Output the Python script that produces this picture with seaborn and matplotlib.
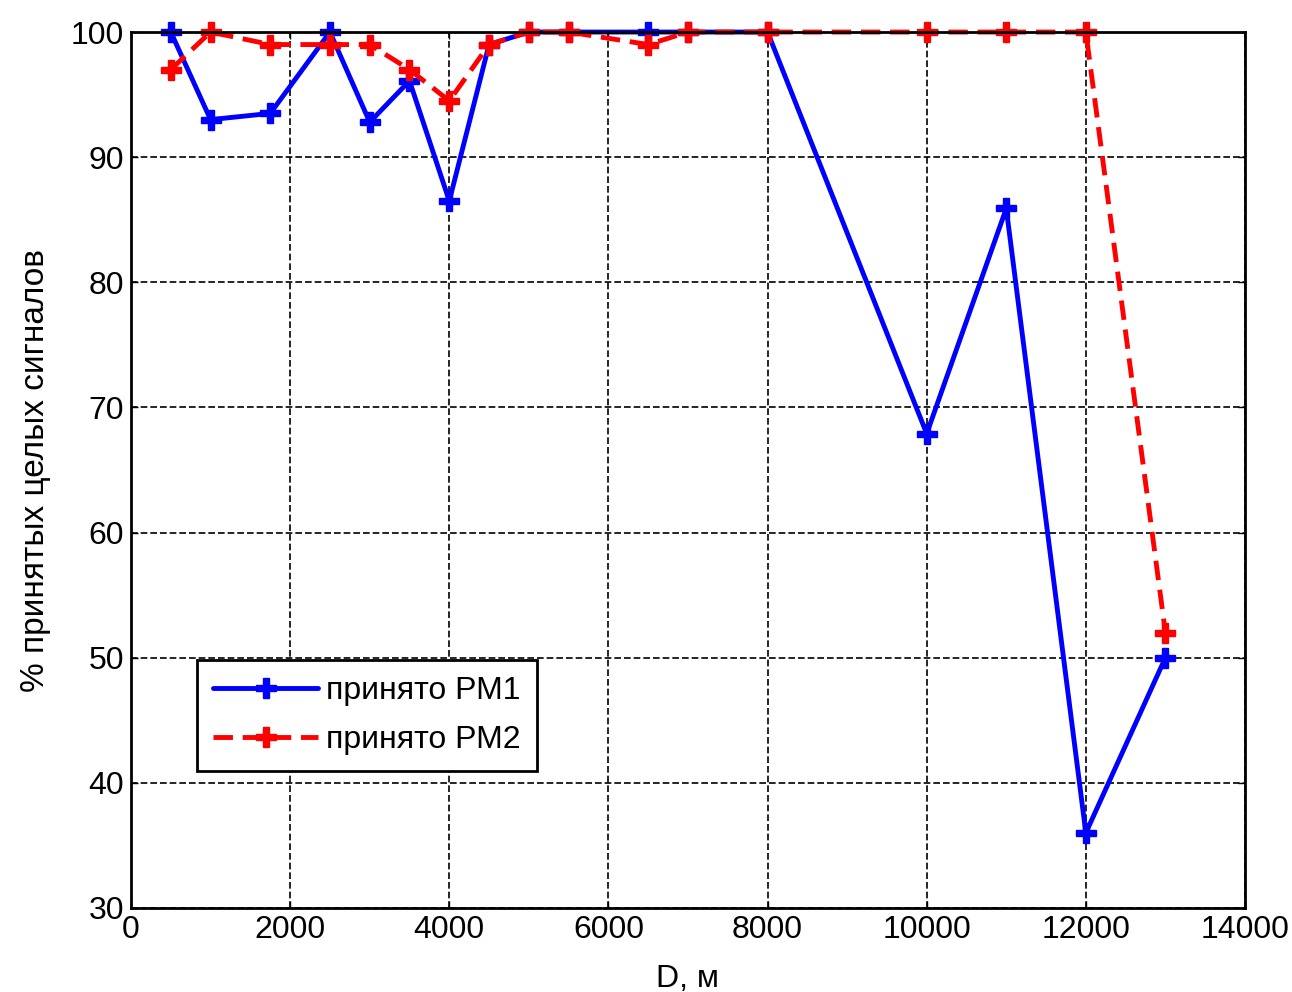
import matplotlib
matplotlib.use("Agg")
import matplotlib.pyplot as plt
import seaborn as sns
import pandas as pd

distance = [500, 1000, 1750, 2500, 3000, 3500, 4000, 4500, 5000, 5500, 6500, 7000, 8000, 10000, 11000, 12000, 13000]
pm1 = [100, 93, 93.5, 100, 92.8, 96.1, 86.5, 99, 100, 100, 100, 100, 100, 67.9, 85.9, 36, 50]
pm2 = [97, 100, 99, 99, 99, 97, 94.5, 99, 100, 100, 99, 100, 100, 100, 100, 100, 52]
labels = ["принято РМ1", "принято РМ2"]
x_ticks = [0, 2000, 4000, 6000, 8000, 10000, 12000, 14000]
y_ticks = [30, 40, 50, 60, 70, 80, 90, 100]

df = pd.DataFrame({
    "D": distance * 2,
    "pct": pm1 + pm2,
    "series": [labels[0]] * len(distance) + [labels[1]] * len(distance),
})

sns.set_style("ticks")
plt.rcParams['font.family'] = ['Liberation Sans', 'DejaVu Sans']
plt.rcParams['text.color'] = 'black'
plt.rcParams['axes.labelcolor'] = 'black'
plt.rcParams['xtick.color'] = 'black'
plt.rcParams['ytick.color'] = 'black'

fig = plt.figure(figsize=(12.92, 9.92), dpi=100)
ax = fig.add_axes([0.1014, 0.0847, 0.8622, 0.883])

sns.lineplot(data=df, x="D", y="pct", hue="series", style="series",
             palette={labels[0]: "#0000ff", labels[1]: "#ff0000"},
             dashes={labels[0]: "", labels[1]: (4, 2)},
             markers={labels[0]: "P", labels[1]: "P"},
             markersize=15, markeredgewidth=1, linewidth=3.5, ax=ax, sort=False)
for ln in ax.get_lines():
    ln.set_clip_on(False)
    ln.set_markeredgecolor(ln.get_color())

ax.set_xlim(0, 14000)
ax.set_ylim(30, 100)
ax.set_xticks(x_ticks)
ax.set_yticks(y_ticks)
ax.tick_params(labelsize=23, direction="in", length=5, width=1, top=True, right=True, pad=5)
ax.grid(True, color="black", linestyle=(0, (4, 1.8)), linewidth=1.2)
for s in ax.spines.values():
    s.set_linewidth(2)
    s.set_color("black")
ax.set_xlabel("D, м", fontsize=23, labelpad=14)
ax.set_ylabel("% принятых целых сигналов", fontsize=24, labelpad=14)

leg = ax.legend(loc="upper left", bbox_to_anchor=(0.0592, 0.283), fontsize=23,
                frameon=True, fancybox=False, edgecolor="black", framealpha=1,
                handlelength=3.3, handletextpad=0.25, borderpad=0.5, labelspacing=0.6,
                borderaxespad=0)
leg.get_frame().set_linewidth(2)
for h in leg.get_lines():
    h.set_markeredgecolor(h.get_color())

fig.savefig("out.png", dpi=100)
